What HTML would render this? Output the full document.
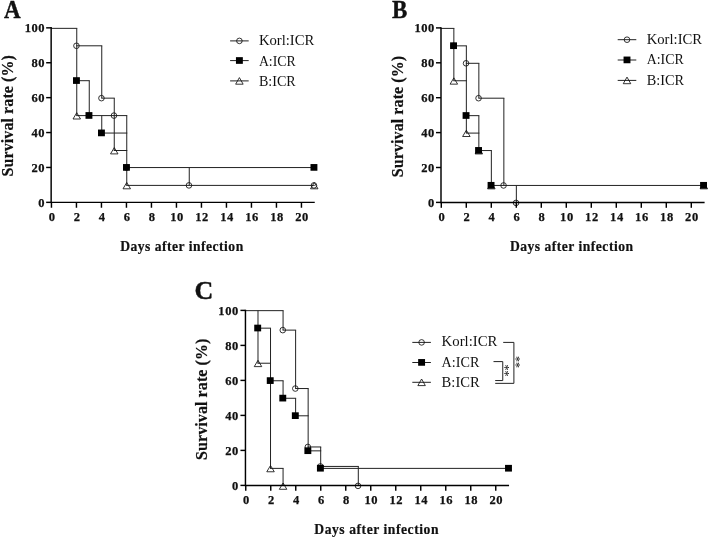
<!DOCTYPE html>
<html><head><meta charset="utf-8"><title>Survival rate</title>
<style>
html,body{margin:0;padding:0;background:#fff;}
body{width:709px;height:538px;overflow:hidden;}
svg{display:block;filter:grayscale(1);}
text{font-family:"Liberation Serif",serif;fill:#111;}
.pl{font-size:26px;font-weight:bold;stroke:#111;stroke-width:0.4px;}
.tk{font-size:12.5px;font-weight:bold;letter-spacing:0.55px;stroke:#111;stroke-width:0.25px;}
.xt{font-size:13.6px;font-weight:bold;stroke:#111;stroke-width:0.2px;}
.yt{font-size:16px;font-weight:bold;stroke:#111;stroke-width:0.2px;}
.lg{font-size:14.5px;}
.st{font-size:12px;}
</style></head><body>
<svg width="709" height="538" viewBox="0 0 709 538">
<rect width="709" height="538" fill="#fff"/>
<g>
<text transform="translate(3.9 17.6) scale(0.885 1)" class="pl">A</text>
<path d="M126.25 185.4H314.75M126.25 167.55H314.75M113.75 150.5H127.25M101.25 133.05H127.25M76.25 115.6H127.25M101.25 98.15H114.75M76.25 80.7H89.75M76.25 45.8H102.25M51.25 28.35H77.25M76.75 28.35V115.6M89.25 80.7V115.6M101.75 115.6V133.05M101.75 45.8V98.15M114.25 98.15V150.5M126.75 115.6V185.4M189.25 167.55V185.4" fill="none" stroke="#222" stroke-width="1.0"/>
<circle cx="76.45" cy="45.8" r="2.8" fill="none" stroke="#111" stroke-width="0.85"/>
<circle cx="101.45" cy="98.15" r="2.8" fill="none" stroke="#111" stroke-width="0.85"/>
<circle cx="113.95" cy="115.6" r="2.8" fill="none" stroke="#111" stroke-width="0.85"/>
<circle cx="126.45" cy="167.55" r="2.8" fill="none" stroke="#111" stroke-width="0.85"/>
<circle cx="188.95" cy="185.4" r="2.8" fill="none" stroke="#111" stroke-width="0.85"/>
<circle cx="313.95" cy="185.4" r="2.8" fill="none" stroke="#111" stroke-width="0.85"/>
<path d="M76.75 112.7 L80.5 119 L73 119 Z" fill="none" stroke="#111" stroke-width="0.85" stroke-linejoin="miter"/>
<path d="M114.25 147.6 L118 153.9 L110.5 153.9 Z" fill="none" stroke="#111" stroke-width="0.85" stroke-linejoin="miter"/>
<path d="M126.75 182.5 L130.5 188.8 L123 188.8 Z" fill="none" stroke="#111" stroke-width="0.85" stroke-linejoin="miter"/>
<path d="M314.25 182.5 L318 188.8 L310.5 188.8 Z" fill="none" stroke="#111" stroke-width="0.85" stroke-linejoin="miter"/>
<rect x="73" y="77.2" width="6.9" height="6.7" fill="#000"/>
<rect x="85.5" y="112.1" width="6.9" height="6.7" fill="#000"/>
<rect x="98" y="129.55" width="6.9" height="6.7" fill="#000"/>
<rect x="123" y="164.05" width="6.9" height="6.7" fill="#000"/>
<rect x="310.5" y="164.05" width="6.9" height="6.7" fill="#000"/>
<path d="M51.15 27.12 V202.35 H314.75" fill="none" stroke="#000" stroke-width="1.45" stroke-linejoin="miter"/>
<path d="M46.15 202.35 H51.15" stroke="#000" stroke-width="1.45"/>
<text x="45.05" y="206.7" class="tk" text-anchor="end">0</text>
<path d="M46.15 167.45 H51.15" stroke="#000" stroke-width="1.45"/>
<text x="45.05" y="171.8" class="tk" text-anchor="end">20</text>
<path d="M46.15 132.55 H51.15" stroke="#000" stroke-width="1.45"/>
<text x="45.05" y="136.9" class="tk" text-anchor="end">40</text>
<path d="M46.15 97.65 H51.15" stroke="#000" stroke-width="1.45"/>
<text x="45.05" y="102" class="tk" text-anchor="end">60</text>
<path d="M46.15 62.75 H51.15" stroke="#000" stroke-width="1.45"/>
<text x="45.05" y="67.1" class="tk" text-anchor="end">80</text>
<path d="M46.15 27.85 H51.15" stroke="#000" stroke-width="1.45"/>
<text x="45.05" y="32.2" class="tk" text-anchor="end">100</text>
<path d="M51.45 202.35 V207.75" stroke="#000" stroke-width="1.45"/>
<text x="52.05" y="221.25" class="tk" text-anchor="middle">0</text>
<path d="M76.45 202.35 V207.75" stroke="#000" stroke-width="1.45"/>
<text x="77.05" y="221.25" class="tk" text-anchor="middle">2</text>
<path d="M101.45 202.35 V207.75" stroke="#000" stroke-width="1.45"/>
<text x="102.05" y="221.25" class="tk" text-anchor="middle">4</text>
<path d="M126.45 202.35 V207.75" stroke="#000" stroke-width="1.45"/>
<text x="127.05" y="221.25" class="tk" text-anchor="middle">6</text>
<path d="M151.45 202.35 V207.75" stroke="#000" stroke-width="1.45"/>
<text x="152.05" y="221.25" class="tk" text-anchor="middle">8</text>
<path d="M176.45 202.35 V207.75" stroke="#000" stroke-width="1.45"/>
<text x="177.05" y="221.25" class="tk" text-anchor="middle">10</text>
<path d="M201.45 202.35 V207.75" stroke="#000" stroke-width="1.45"/>
<text x="202.05" y="221.25" class="tk" text-anchor="middle">12</text>
<path d="M226.45 202.35 V207.75" stroke="#000" stroke-width="1.45"/>
<text x="227.05" y="221.25" class="tk" text-anchor="middle">14</text>
<path d="M251.45 202.35 V207.75" stroke="#000" stroke-width="1.45"/>
<text x="252.05" y="221.25" class="tk" text-anchor="middle">16</text>
<path d="M276.45 202.35 V207.75" stroke="#000" stroke-width="1.45"/>
<text x="277.05" y="221.25" class="tk" text-anchor="middle">18</text>
<path d="M301.45 202.35 V207.75" stroke="#000" stroke-width="1.45"/>
<text x="302.05" y="221.25" class="tk" text-anchor="middle">20</text>
<text x="120.2" y="251.3" class="xt" textLength="123" lengthAdjust="spacing">Days after infection</text>
<text transform="translate(12.8 115.8) rotate(-90)" class="yt" text-anchor="middle" textLength="121.5" lengthAdjust="spacing">Survival rate (%)</text>
<path d="M230.1 40.9 H248.7" stroke="#222" stroke-width="1.0"/>
<circle cx="239.4" cy="40.9" r="2.8" fill="none" stroke="#111" stroke-width="0.85"/>
<text x="258.9" y="44.8" class="lg" textLength="55.4" lengthAdjust="spacingAndGlyphs">Korl:ICR</text>
<path d="M230.1 60.6 H248.7" stroke="#222" stroke-width="1.0"/>
<rect x="235.95" y="57.15" width="6.9" height="6.7" fill="#000"/>
<text x="258.9" y="65.5" class="lg" textLength="36.8" lengthAdjust="spacingAndGlyphs">A:ICR</text>
<path d="M230.1 80.9 H248.7" stroke="#222" stroke-width="1.0"/>
<path d="M239.4 77.6 L243.15 84.2 L235.65 84.2 Z" fill="none" stroke="#111" stroke-width="0.85" stroke-linejoin="miter"/>
<text x="258.9" y="85.5" class="lg" textLength="36.8" lengthAdjust="spacingAndGlyphs">B:ICR</text>
</g>
<g>
<text transform="translate(392 17.8) scale(0.885 1)" class="pl">B</text>
<path d="M490.85 185.45H704.35M478.35 150.55H491.85M465.85 133.1H479.35M465.85 115.65H479.35M478.35 98.2H504.35M453.35 80.75H466.85M465.85 63.3H479.35M453.35 45.85H466.85M440.85 28.4H454.35M453.85 28.4V80.75M466.35 45.85V133.1M478.85 115.65V150.55M478.85 63.3V98.2M491.35 150.55V185.45M503.85 98.2V185.45M516.35 185.45V202.9" fill="none" stroke="#222" stroke-width="1.0"/>
<circle cx="453.55" cy="45.85" r="2.8" fill="none" stroke="#111" stroke-width="0.85"/>
<circle cx="466.05" cy="63.3" r="2.8" fill="none" stroke="#111" stroke-width="0.85"/>
<circle cx="478.55" cy="98.2" r="2.8" fill="none" stroke="#111" stroke-width="0.85"/>
<circle cx="503.55" cy="185.45" r="2.8" fill="none" stroke="#111" stroke-width="0.85"/>
<circle cx="516.05" cy="202.9" r="2.8" fill="none" stroke="#111" stroke-width="0.85"/>
<path d="M453.85 77.85 L457.6 84.15 L450.1 84.15 Z" fill="none" stroke="#111" stroke-width="0.85" stroke-linejoin="miter"/>
<path d="M466.35 130.2 L470.1 136.5 L462.6 136.5 Z" fill="none" stroke="#111" stroke-width="0.85" stroke-linejoin="miter"/>
<path d="M478.85 147.65 L482.6 153.95 L475.1 153.95 Z" fill="none" stroke="#111" stroke-width="0.85" stroke-linejoin="miter"/>
<path d="M491.35 182.55 L495.1 188.85 L487.6 188.85 Z" fill="none" stroke="#111" stroke-width="0.85" stroke-linejoin="miter"/>
<path d="M703.85 182.55 L707.6 188.85 L700.1 188.85 Z" fill="none" stroke="#111" stroke-width="0.85" stroke-linejoin="miter"/>
<rect x="450.1" y="42.35" width="6.9" height="6.7" fill="#000"/>
<rect x="462.6" y="112.15" width="6.9" height="6.7" fill="#000"/>
<rect x="475.1" y="147.05" width="6.9" height="6.7" fill="#000"/>
<rect x="487.6" y="181.95" width="6.9" height="6.7" fill="#000"/>
<rect x="700.1" y="181.95" width="6.9" height="6.7" fill="#000"/>
<path d="M441 27.18 V202.4 H704.6" fill="none" stroke="#000" stroke-width="1.45" stroke-linejoin="miter"/>
<path d="M436 202.4 H441" stroke="#000" stroke-width="1.45"/>
<text x="434.9" y="206.75" class="tk" text-anchor="end">0</text>
<path d="M436 167.5 H441" stroke="#000" stroke-width="1.45"/>
<text x="434.9" y="171.85" class="tk" text-anchor="end">20</text>
<path d="M436 132.6 H441" stroke="#000" stroke-width="1.45"/>
<text x="434.9" y="136.95" class="tk" text-anchor="end">40</text>
<path d="M436 97.7 H441" stroke="#000" stroke-width="1.45"/>
<text x="434.9" y="102.05" class="tk" text-anchor="end">60</text>
<path d="M436 62.8 H441" stroke="#000" stroke-width="1.45"/>
<text x="434.9" y="67.15" class="tk" text-anchor="end">80</text>
<path d="M436 27.9 H441" stroke="#000" stroke-width="1.45"/>
<text x="434.9" y="32.25" class="tk" text-anchor="end">100</text>
<path d="M441.3 202.4 V207.8" stroke="#000" stroke-width="1.45"/>
<text x="441.9" y="221.3" class="tk" text-anchor="middle">0</text>
<path d="M466.3 202.4 V207.8" stroke="#000" stroke-width="1.45"/>
<text x="466.9" y="221.3" class="tk" text-anchor="middle">2</text>
<path d="M491.3 202.4 V207.8" stroke="#000" stroke-width="1.45"/>
<text x="491.9" y="221.3" class="tk" text-anchor="middle">4</text>
<path d="M516.3 202.4 V207.8" stroke="#000" stroke-width="1.45"/>
<text x="516.9" y="221.3" class="tk" text-anchor="middle">6</text>
<path d="M541.3 202.4 V207.8" stroke="#000" stroke-width="1.45"/>
<text x="541.9" y="221.3" class="tk" text-anchor="middle">8</text>
<path d="M566.3 202.4 V207.8" stroke="#000" stroke-width="1.45"/>
<text x="566.9" y="221.3" class="tk" text-anchor="middle">10</text>
<path d="M591.3 202.4 V207.8" stroke="#000" stroke-width="1.45"/>
<text x="591.9" y="221.3" class="tk" text-anchor="middle">12</text>
<path d="M616.3 202.4 V207.8" stroke="#000" stroke-width="1.45"/>
<text x="616.9" y="221.3" class="tk" text-anchor="middle">14</text>
<path d="M641.3 202.4 V207.8" stroke="#000" stroke-width="1.45"/>
<text x="641.9" y="221.3" class="tk" text-anchor="middle">16</text>
<path d="M666.3 202.4 V207.8" stroke="#000" stroke-width="1.45"/>
<text x="666.9" y="221.3" class="tk" text-anchor="middle">18</text>
<path d="M691.3 202.4 V207.8" stroke="#000" stroke-width="1.45"/>
<text x="691.9" y="221.3" class="tk" text-anchor="middle">20</text>
<text x="510" y="251.3" class="xt" textLength="123" lengthAdjust="spacing">Days after infection</text>
<text transform="translate(403 116.55) rotate(-90)" class="yt" text-anchor="middle" textLength="121.5" lengthAdjust="spacing">Survival rate (%)</text>
<path d="M617.7 39.7 H636.3" stroke="#222" stroke-width="1.0"/>
<circle cx="627" cy="39.7" r="2.8" fill="none" stroke="#111" stroke-width="0.85"/>
<text x="646.7" y="44.2" class="lg" textLength="55.4" lengthAdjust="spacingAndGlyphs">Korl:ICR</text>
<path d="M617.7 60 H636.3" stroke="#222" stroke-width="1.0"/>
<rect x="623.55" y="56.55" width="6.9" height="6.7" fill="#000"/>
<text x="646.7" y="64.4" class="lg" textLength="37.0" lengthAdjust="spacingAndGlyphs">A:ICR</text>
<path d="M617.7 80.4 H636.3" stroke="#222" stroke-width="1.0"/>
<path d="M627 77.1 L630.75 83.7 L623.25 83.7 Z" fill="none" stroke="#111" stroke-width="0.85" stroke-linejoin="miter"/>
<text x="646.7" y="84.9" class="lg" textLength="37.4" lengthAdjust="spacingAndGlyphs">B:ICR</text>
</g>
<g>
<text transform="translate(194.6 299.3) scale(1.0 1)" class="pl">C</text>
<path d="M270.03 468.38H283.57M320.19 468.38H509.29M320.19 466.43H358.81M307.65 450.85H321.19M307.65 446.96H321.19M295.11 415.8H308.65M282.57 398.27H296.11M295.11 388.54H308.65M270.03 380.75H283.57M257.49 363.22H271.03M282.57 330.12H296.11M257.49 328.17H271.03M244.95 310.65H283.57M257.99 310.65V363.22M270.53 328.17V468.38M283.07 468.38V485.9M283.07 380.75V398.27M283.07 310.65V330.12M295.61 398.27V415.8M295.61 330.12V388.54M308.15 388.54V450.85M320.69 446.96V468.38M358.31 466.43V485.9" fill="none" stroke="#222" stroke-width="1.0"/>
<circle cx="282.77" cy="330.12" r="2.8" fill="none" stroke="#111" stroke-width="0.85"/>
<circle cx="295.31" cy="388.54" r="2.8" fill="none" stroke="#111" stroke-width="0.85"/>
<circle cx="307.85" cy="446.96" r="2.8" fill="none" stroke="#111" stroke-width="0.85"/>
<circle cx="320.39" cy="466.43" r="2.8" fill="none" stroke="#111" stroke-width="0.85"/>
<circle cx="358.01" cy="485.9" r="2.8" fill="none" stroke="#111" stroke-width="0.85"/>
<path d="M257.99 360.32 L261.74 366.62 L254.24 366.62 Z" fill="none" stroke="#111" stroke-width="0.85" stroke-linejoin="miter"/>
<path d="M270.53 465.48 L274.28 471.77 L266.78 471.77 Z" fill="none" stroke="#111" stroke-width="0.85" stroke-linejoin="miter"/>
<path d="M283.07 483 L286.82 489.3 L279.32 489.3 Z" fill="none" stroke="#111" stroke-width="0.85" stroke-linejoin="miter"/>
<rect x="254.24" y="324.67" width="6.9" height="6.7" fill="#000"/>
<rect x="266.78" y="377.25" width="6.9" height="6.7" fill="#000"/>
<rect x="279.32" y="394.77" width="6.9" height="6.7" fill="#000"/>
<rect x="291.86" y="412.3" width="6.9" height="6.7" fill="#000"/>
<rect x="304.4" y="447.35" width="6.9" height="6.7" fill="#000"/>
<rect x="316.94" y="464.88" width="6.9" height="6.7" fill="#000"/>
<rect x="505.04" y="464.88" width="6.9" height="6.7" fill="#000"/>
<path d="M245.45 309.67 V485.4 H509.05" fill="none" stroke="#000" stroke-width="1.45" stroke-linejoin="miter"/>
<path d="M240.45 485.4 H245.45" stroke="#000" stroke-width="1.45"/>
<text x="238.75" y="489.75" class="tk" text-anchor="end">0</text>
<path d="M240.45 450.4 H245.45" stroke="#000" stroke-width="1.45"/>
<text x="238.75" y="454.75" class="tk" text-anchor="end">20</text>
<path d="M240.45 415.4 H245.45" stroke="#000" stroke-width="1.45"/>
<text x="238.75" y="419.75" class="tk" text-anchor="end">40</text>
<path d="M240.45 380.4 H245.45" stroke="#000" stroke-width="1.45"/>
<text x="238.75" y="384.75" class="tk" text-anchor="end">60</text>
<path d="M240.45 345.4 H245.45" stroke="#000" stroke-width="1.45"/>
<text x="238.75" y="349.75" class="tk" text-anchor="end">80</text>
<path d="M240.45 310.4 H245.45" stroke="#000" stroke-width="1.45"/>
<text x="238.75" y="314.75" class="tk" text-anchor="end">100</text>
<path d="M245.75 485.4 V490.8" stroke="#000" stroke-width="1.45"/>
<text x="246.35" y="504.3" class="tk" text-anchor="middle">0</text>
<path d="M270.75 485.4 V490.8" stroke="#000" stroke-width="1.45"/>
<text x="271.35" y="504.3" class="tk" text-anchor="middle">2</text>
<path d="M295.75 485.4 V490.8" stroke="#000" stroke-width="1.45"/>
<text x="296.35" y="504.3" class="tk" text-anchor="middle">4</text>
<path d="M320.75 485.4 V490.8" stroke="#000" stroke-width="1.45"/>
<text x="321.35" y="504.3" class="tk" text-anchor="middle">6</text>
<path d="M345.75 485.4 V490.8" stroke="#000" stroke-width="1.45"/>
<text x="346.35" y="504.3" class="tk" text-anchor="middle">8</text>
<path d="M370.75 485.4 V490.8" stroke="#000" stroke-width="1.45"/>
<text x="371.35" y="504.3" class="tk" text-anchor="middle">10</text>
<path d="M395.75 485.4 V490.8" stroke="#000" stroke-width="1.45"/>
<text x="396.35" y="504.3" class="tk" text-anchor="middle">12</text>
<path d="M420.75 485.4 V490.8" stroke="#000" stroke-width="1.45"/>
<text x="421.35" y="504.3" class="tk" text-anchor="middle">14</text>
<path d="M445.75 485.4 V490.8" stroke="#000" stroke-width="1.45"/>
<text x="446.35" y="504.3" class="tk" text-anchor="middle">16</text>
<path d="M470.75 485.4 V490.8" stroke="#000" stroke-width="1.45"/>
<text x="471.35" y="504.3" class="tk" text-anchor="middle">18</text>
<path d="M495.75 485.4 V490.8" stroke="#000" stroke-width="1.45"/>
<text x="496.35" y="504.3" class="tk" text-anchor="middle">20</text>
<text x="314.3" y="533.8" class="xt" textLength="124.2" lengthAdjust="spacing">Days after infection</text>
<text transform="translate(206.8 399.3) rotate(-90)" class="yt" text-anchor="middle" textLength="121.5" lengthAdjust="spacing">Survival rate (%)</text>
<path d="M412.3 342.4 H430.9" stroke="#222" stroke-width="1.0"/>
<circle cx="421.6" cy="342.4" r="2.8" fill="none" stroke="#111" stroke-width="0.85"/>
<text x="441.6" y="346.3" class="lg" textLength="55.8" lengthAdjust="spacingAndGlyphs">Korl:ICR</text>
<path d="M412.3 362.5 H430.9" stroke="#222" stroke-width="1.0"/>
<rect x="418.15" y="359.05" width="6.9" height="6.7" fill="#000"/>
<text x="441.6" y="366.8" class="lg" textLength="37.8" lengthAdjust="spacingAndGlyphs">A:ICR</text>
<path d="M412.3 382.3 H430.9" stroke="#222" stroke-width="1.0"/>
<path d="M421.6 379 L425.35 385.6 L417.85 385.6 Z" fill="none" stroke="#111" stroke-width="0.85" stroke-linejoin="miter"/>
<text x="441.6" y="387" class="lg" textLength="38.2" lengthAdjust="spacingAndGlyphs">B:ICR</text>
<path d="M503.2 342.4 H513.9 V383.35 H495.2" fill="none" stroke="#222" stroke-width="1.0"/>
<path d="M493.5 361.6 H502.75 V380.55 H495.2" fill="none" stroke="#222" stroke-width="1.0"/>
<text transform="translate(506.7 370.6) rotate(90)" class="st" text-anchor="middle" x="0" y="5.7">**</text>
<text transform="translate(517.3 362.0) rotate(90)" class="st" text-anchor="middle" x="0" y="5.5">**</text>
</g>
</svg>
</body></html>
